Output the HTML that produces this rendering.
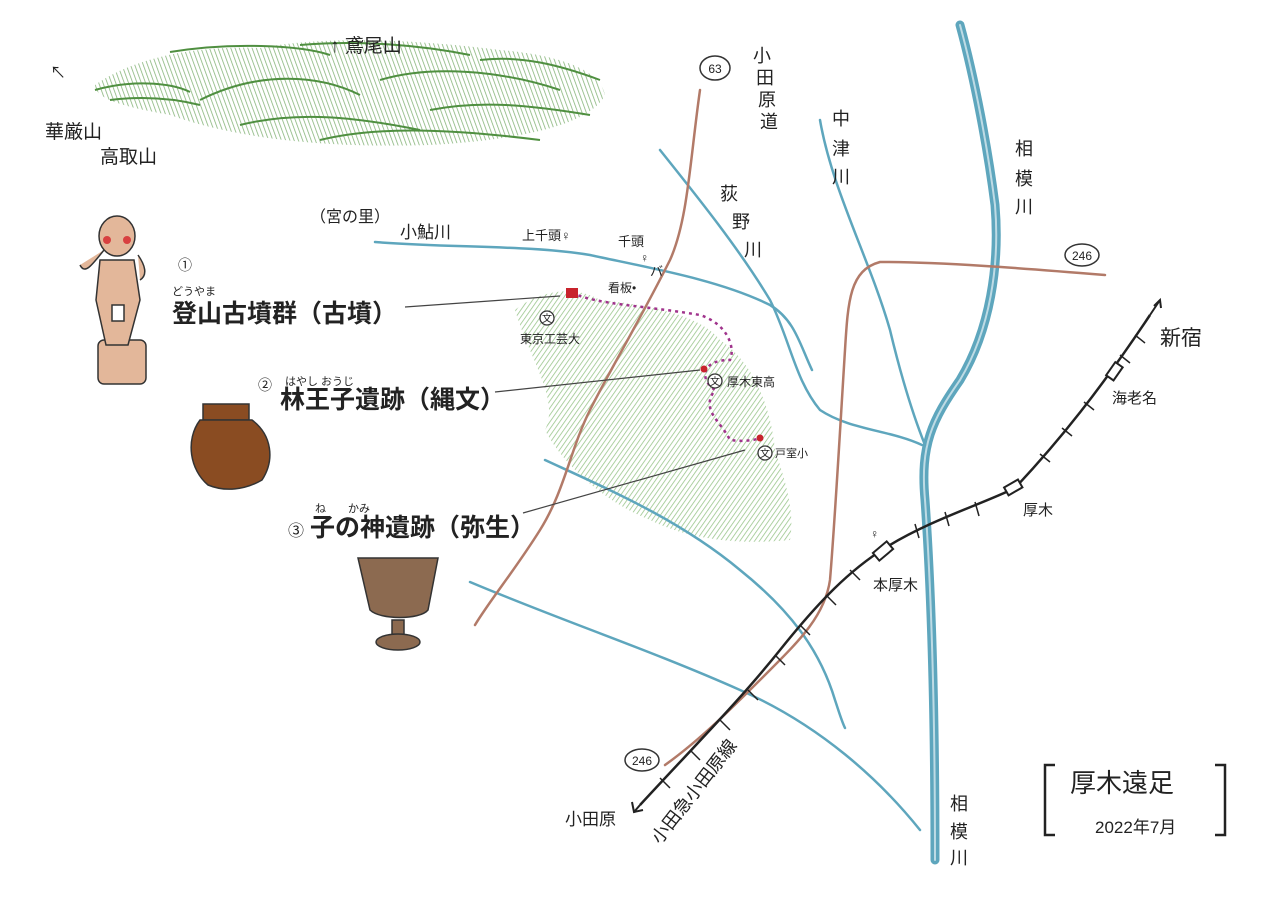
<!DOCTYPE html>
<html><head><meta charset="utf-8"><style>
html,body{margin:0;padding:0;background:#fff}
svg{display:block}
text{font-family:"Liberation Sans","Noto Sans CJK JP",sans-serif;fill:#222}
</style></head><body>
<svg width="1280" height="905" viewBox="0 0 1280 905" xmlns="http://www.w3.org/2000/svg">
<defs>
<pattern id="hatch" width="4" height="4" patternUnits="userSpaceOnUse" patternTransform="rotate(35)">
<line x1="0" y1="0" x2="0" y2="4" stroke="#8fbf7f" stroke-width="1.6"/></pattern>
<pattern id="hatch2" width="4" height="4" patternUnits="userSpaceOnUse" patternTransform="rotate(-20)">
<line x1="0" y1="0" x2="0" y2="4" stroke="#6aa35a" stroke-width="1.6"/></pattern>
</defs>
<rect width="1280" height="905" fill="#fff"/>

<!-- mountains -->
<g>
<path d="M95,85 C130,60 190,45 260,48 C330,35 420,40 500,50 C560,55 600,70 605,95 C590,125 520,140 430,145 C330,148 240,140 170,115 C130,108 95,100 95,85Z" fill="url(#hatch2)" opacity="0.8"/>
<path d="M95,90 C130,80 170,82 190,92 M170,52 C230,42 300,45 330,55 M300,45 C360,40 420,45 470,55 M200,100 C260,70 320,75 360,95 M380,80 C430,65 500,70 560,90 M240,125 C300,110 360,118 420,130 M430,110 C480,100 530,105 590,115 M320,140 C380,125 460,130 540,140 M110,100 C150,95 180,100 200,105 M480,60 C520,55 560,65 600,80" stroke="#4f8f40" stroke-width="2" fill="none"/>
</g>

<!-- hill area -->
<path d="M515,310 C540,290 575,285 600,300 C650,305 700,315 720,340 C750,360 770,400 775,450 C785,480 795,510 790,540 C740,545 690,540 650,520 C600,500 560,460 545,430 C560,400 530,360 515,310Z" fill="url(#hatch)" opacity="0.9"/>

<!-- rivers -->
<g fill="none" stroke="#5ea6bd" stroke-linecap="round">
<path d="M960,25 C975,80 988,150 995,205 C1000,265 990,330 960,380 C932,420 920,445 925,500 C932,600 935,720 935,860" stroke-width="9"/>
<path d="M960,25 C975,80 988,150 995,205 C1000,265 990,330 960,380 C932,420 920,445 925,500 C932,600 935,720 935,860" stroke-width="2" stroke="#fff" opacity="0.6"/>
<path d="M820,120 C832,190 870,260 890,330 C902,380 915,420 925,445" stroke-width="2.5"/>
<path d="M660,150 C700,200 740,250 770,300 C790,340 795,380 820,410 C850,430 890,430 922,445" stroke-width="2.5"/>
<path d="M375,242 C450,248 530,245 590,255 C650,268 720,280 770,305 C795,320 800,345 812,370" stroke-width="2.5"/>
<path d="M545,460 C610,490 680,520 740,570 C790,610 820,650 835,700 C840,715 842,722 845,728" stroke-width="2.5"/>
<path d="M470,582 C560,620 650,650 740,690 C820,725 880,780 920,830" stroke-width="2.5"/>
</g>

<!-- roads -->
<g fill="none" stroke="#b27a68" stroke-width="2.5" stroke-linecap="round">
<path d="M700,90 C690,160 688,220 670,260 C640,320 610,370 590,410 C570,450 565,490 540,530 C515,570 490,600 475,625"/>
<path d="M1105,275 C1020,268 940,262 880,262 C850,270 848,300 845,350 C840,430 835,520 830,580 C825,615 800,640 770,670 C730,710 700,740 665,765"/>
</g>

<!-- railway -->
<path d="M640,805 C700,740 740,700 780,650 C820,600 850,570 885,548 C930,520 980,505 1015,488 C1060,440 1100,390 1150,315" fill="none" stroke="#222" stroke-width="2.5"/>
<g stroke="#222" stroke-width="1.5">
<line x1="660" y1="778" x2="670" y2="788"/><line x1="690" y1="750" x2="700" y2="760"/>
<line x1="720" y1="720" x2="730" y2="730"/><line x1="748" y1="690" x2="758" y2="700"/>
<line x1="775" y1="655" x2="785" y2="665"/><line x1="800" y1="625" x2="810" y2="635"/>
<line x1="826" y1="595" x2="836" y2="605"/><line x1="850" y1="570" x2="860" y2="580"/>
<line x1="915" y1="524" x2="919" y2="538"/><line x1="945" y1="512" x2="949" y2="526"/>
<line x1="975" y1="502" x2="979" y2="516"/><line x1="1040" y1="454" x2="1050" y2="462"/>
<line x1="1062" y1="428" x2="1072" y2="436"/><line x1="1084" y1="402" x2="1094" y2="410"/>
<line x1="1120" y1="355" x2="1130" y2="363"/><line x1="1135" y1="335" x2="1145" y2="343"/>
</g>
<g fill="#fff" stroke="#222" stroke-width="2">
<rect x="874" y="546" width="18" height="10" transform="rotate(-40 883 551)"/>
<rect x="1005" y="483" width="16" height="9" transform="rotate(-30 1013 487)"/>
<rect x="1106" y="367" width="16" height="9" transform="rotate(-55 1114 371)"/>
</g>
<path d="M1150,315 L1160,300 M1154,306 L1160,300 L1161,308" stroke="#222" stroke-width="2" fill="none"/>
<path d="M640,805 L634,812 M632,802 L634,812 L643,810" stroke="#222" stroke-width="2" fill="none"/>

<!-- route dotted -->
<path d="M572,293 C600,305 640,305 700,315 C730,325 735,350 730,360 C700,360 700,380 715,390 C700,410 720,420 730,440 C745,442 755,440 760,438" fill="none" stroke="#a0338c" stroke-width="2.5" stroke-dasharray="3,4"/>
<rect x="566" y="288" width="12" height="10" fill="#c8232c"/>
<circle cx="704" cy="369" r="3.5" fill="#c8232c"/>
<circle cx="760" cy="438" r="3.5" fill="#c8232c"/>

<!-- leader lines -->
<g stroke="#444" stroke-width="1.2">
<line x1="405" y1="307" x2="560" y2="296"/>
<line x1="495" y1="392" x2="700" y2="370"/>
<line x1="523" y1="513" x2="745" y2="450"/>
</g>

<!-- road shields -->
<g fill="#fff" stroke="#333" stroke-width="1.5">
<ellipse cx="715" cy="68" rx="15" ry="12"/>
<ellipse cx="1082" cy="255" rx="17" ry="11"/>
<ellipse cx="642" cy="760" rx="17" ry="11"/>
</g>
<text x="715" y="73" font-size="12" text-anchor="middle">63</text>
<text x="1082" y="260" font-size="12" text-anchor="middle">246</text>
<text x="642" y="765" font-size="12" text-anchor="middle">246</text>

<!-- school marks -->
<g fill="#fff" stroke="#333" stroke-width="1.3">
<circle cx="547" cy="318" r="7"/><circle cx="715" cy="381" r="7"/><circle cx="765" cy="453" r="7"/>
</g>
<text x="547" y="322" font-size="10" text-anchor="middle">文</text>
<text x="715" y="385" font-size="10" text-anchor="middle">文</text>
<text x="765" y="457" font-size="10" text-anchor="middle">文</text>

<!-- labels -->
<text x="330" y="52" font-size="19">↑ 鳶尾山</text>
<text x="50" y="78" font-size="16">↖</text>
<text x="45" y="138" font-size="19">華厳山</text>
<text x="100" y="163" font-size="19">高取山</text>
<text x="310" y="222" font-size="16">（宮の里）</text>
<text x="400" y="238" font-size="17">小鮎川</text>
<text x="522" y="240" font-size="13">上千頭♀</text>
<text x="618" y="246" font-size="13">千頭</text>
<text x="640" y="262" font-size="12">♀</text>
<text x="650" y="276" font-size="13">バ</text>
<text x="608" y="292" font-size="12">看板•</text>
<text x="520" y="343" font-size="12">東京工芸大</text>
<text x="727" y="386" font-size="12">厚木東高</text>
<text x="775" y="457" font-size="11">戸室小</text>
<g font-size="18">
<text x="753" y="62">小</text><text x="756" y="84">田</text><text x="758" y="106">原</text><text x="760" y="128">道</text>
<text x="832" y="125">中</text><text x="832" y="155">津</text><text x="832" y="183">川</text>
<text x="720" y="200">荻</text><text x="732" y="228">野</text><text x="744" y="256">川</text>
<text x="1015" y="155">相</text><text x="1015" y="185">模</text><text x="1015" y="213">川</text>
<text x="950" y="810">相</text><text x="950" y="838">模</text><text x="950" y="864">川</text>
</g>
<text x="1160" y="345" font-size="21">新宿</text>
<text x="1112" y="403" font-size="15">海老名</text>
<text x="1023" y="515" font-size="15">厚木</text>
<text x="873" y="590" font-size="15">本厚木</text>
<text x="870" y="538" font-size="12">♀</text>
<text x="565" y="825" font-size="17">小田原</text>
<text x="660" y="845" font-size="18" transform="rotate(-52 660 845)">小田急小田原線</text>

<text x="178" y="270" font-size="14">①</text>
<text x="172" y="295" font-size="11">どうやま</text>
<text x="172" y="322" font-size="25" font-weight="bold">登山古墳群（古墳）</text>
<text x="258" y="390" font-size="14">②</text>
<text x="285" y="385" font-size="11">はやし おうじ</text>
<text x="280" y="408" font-size="25" font-weight="bold">林王子遺跡（縄文）</text>
<text x="288" y="536" font-size="16">③</text>
<text x="315" y="512" font-size="11">ね　　かみ</text>
<text x="310" y="536" font-size="25" font-weight="bold">子の神遺跡（弥生）</text>

<!-- haniwa -->
<g stroke="#333" stroke-width="1.5" fill="#e3b79a">
<rect x="98" y="340" width="48" height="44" rx="6"/>
<path d="M104,250 C92,265 85,275 80,265 M138,255 C145,265 148,275 140,280"/>
<ellipse cx="117" cy="236" rx="18" ry="20"/>
<path d="M100,260 L134,260 L140,300 L128,345 L106,345 L96,300Z"/>
<rect x="112" y="305" width="12" height="16" fill="#fff"/>
</g>
<circle cx="107" cy="240" r="4" fill="#d84040"/><circle cx="127" cy="240" r="4" fill="#d84040"/>
<!-- jomon pot -->
<g stroke="#333" stroke-width="1.5">
<rect x="203" y="404" width="46" height="16" fill="#8a4c22"/>
<path d="M200,420 C185,440 190,470 208,485 C225,492 245,490 262,480 C275,460 272,435 252,420Z" fill="#8a4c22"/>
</g>
<!-- yayoi -->
<g stroke="#333" stroke-width="1.5" fill="#8c6a50">
<path d="M358,558 L438,558 L428,610 C420,620 380,620 370,610Z"/>
<rect x="392" y="620" width="12" height="20"/>
<ellipse cx="398" cy="642" rx="22" ry="8"/>
</g>

<!-- title -->
<path d="M1055,765 L1045,765 L1045,835 L1055,835 M1215,765 L1225,765 L1225,835 L1215,835" fill="none" stroke="#222" stroke-width="2.5"/>
<text x="1070" y="792" font-size="26">厚木遠足</text>
<text x="1095" y="833" font-size="17">2022年7月</text>
</svg>
</body></html>
